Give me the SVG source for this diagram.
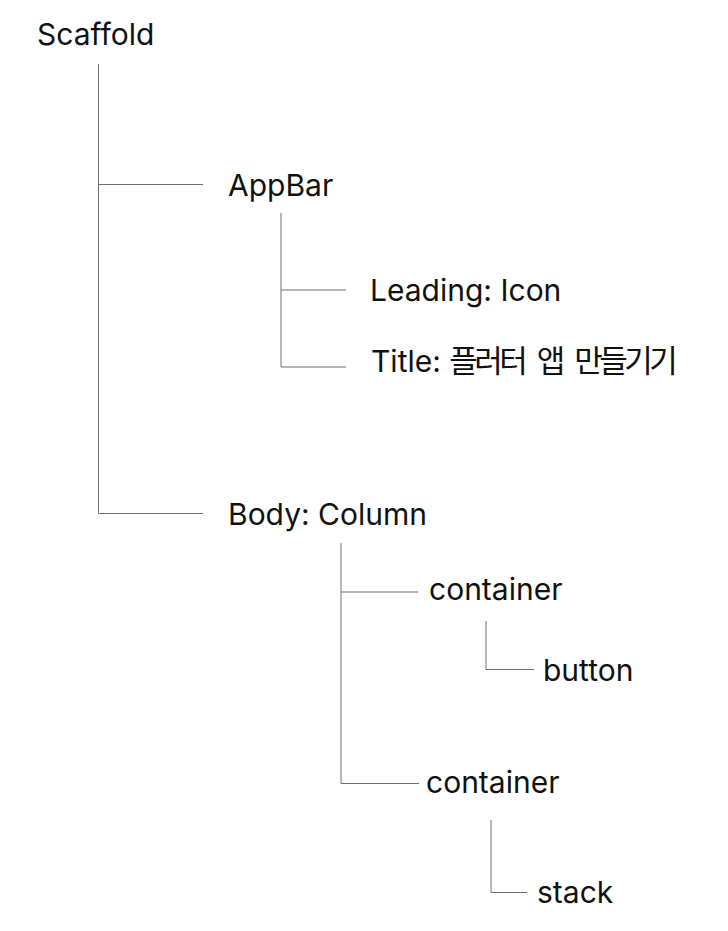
<svg xmlns="http://www.w3.org/2000/svg" width="728" height="931" viewBox="0 0 728 931">
<style>
text{font-family:Inter,"Noto Sans","Noto Sans CJK KR",sans-serif;font-size:30px;fill:#111}
.ko{font-family:"Noto Sans CJK KR",sans-serif;font-size:31px;letter-spacing:-3.5px;word-spacing:9px}
.c line{stroke:#6e6e6e;stroke-width:1;fill:none}
</style>
<rect width="728" height="931" fill="#fff"/>
<g class="c" id="connectors">
<line x1="98.5" y1="64" x2="98.5" y2="513.5"/>
<line x1="98.5" y1="184.5" x2="203" y2="184.5"/>
<line x1="98.5" y1="513.5" x2="203" y2="513.5"/>
<line x1="281" y1="213" x2="281" y2="367"/>
<line x1="281" y1="290" x2="346" y2="290"/>
<line x1="281" y1="367" x2="346" y2="367"/>
<line x1="341" y1="543" x2="341" y2="783.5"/>
<line x1="341" y1="592" x2="418" y2="592"/>
<line x1="341" y1="783.5" x2="419" y2="783.5"/>
<line x1="486" y1="621" x2="486" y2="669.5"/>
<line x1="486" y1="669.5" x2="534" y2="669.5"/>
<line x1="491" y1="820" x2="491" y2="892.5"/>
<line x1="491" y1="892.5" x2="527" y2="892.5"/>
</g>
<g id="scaffold"><text x="37" y="45">Scaffold</text></g>
<g id="appbar"><text x="228" y="196">AppBar</text></g>
<g id="leading"><text x="370" y="301">Leading: Icon</text></g>
<g id="title"><text x="371" y="372">Title: <tspan class="ko">플러터 앱 만들기기</tspan></text></g>
<g id="body"><text x="228" y="525">Body: Column</text></g>
<g id="container1"><text x="429" y="600">container</text></g>
<g id="button"><text x="543" y="681">button</text></g>
<g id="container2"><text x="426" y="793">container</text></g>
<g id="stack"><text x="537" y="903">stack</text></g>
</svg>
